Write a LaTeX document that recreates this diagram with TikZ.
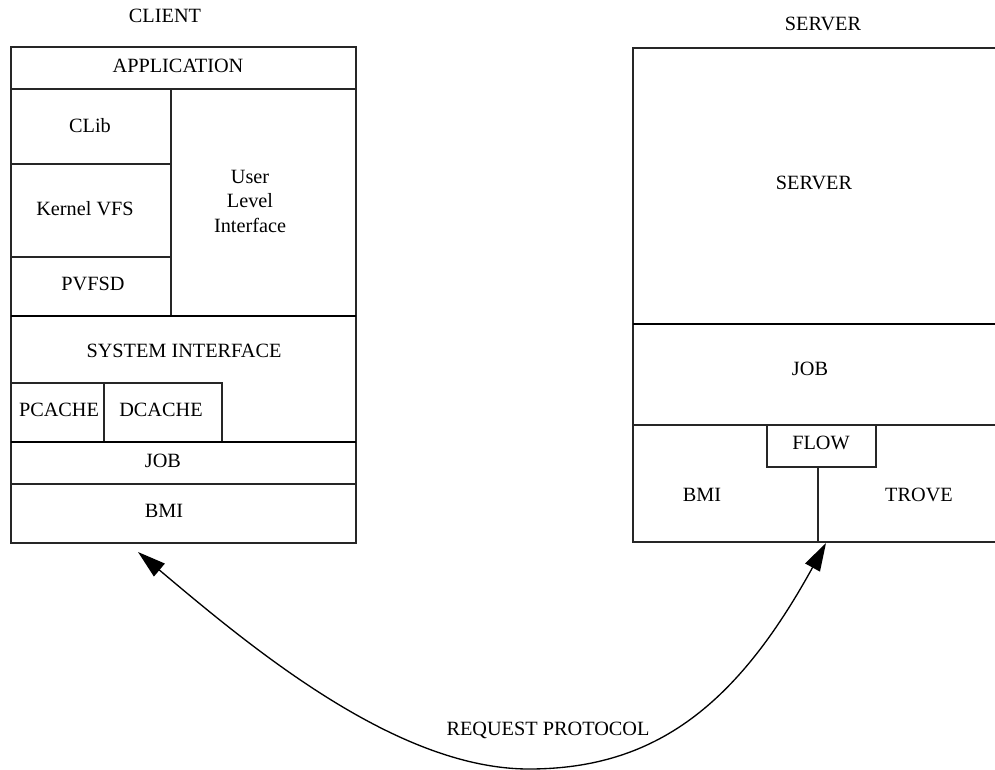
\documentclass[tikz,border=0pt]{standalone}
\usepackage{fontspec}
\setmainfont{Liberation Serif}
\usetikzlibrary{arrows.meta}
\begin{document}
\begin{tikzpicture}[x=0.75pt,y=-0.75pt,
  thin line/.style={draw=black!85,line width=0.8pt},
  thick line/.style={draw=black,line width=1.2pt},
  lbl/.style={inner sep=0pt,font=\fontsize{15.2}{18.4}\selectfont},
  proto/.style={line width=1pt,{Triangle[length=21pt,width=12.5pt]}-{Triangle[length=21pt,width=12.5pt]}}]
\useasboundingbox (0,0) rectangle (995,770);
% ---------- client ----------
\draw[thin line] (11,47) rectangle (356,543);
\draw[thin line] (11,89) -- (356,89);
\draw[thin line] (171,89) -- (171,316);
\draw[thin line] (11,164) -- (171,164);
\draw[thin line] (11,257) -- (171,257);
\draw[thick line] (11,316) -- (356,316);
\draw[thin line] (11,383) rectangle (222,442);
\draw[thin line] (104,383) -- (104,442);
\draw[thick line] (11,442) -- (356,442);
\draw[thin line] (11,484) -- (356,484);
\node[lbl] (clientt) at (165,16) {CLIENT};
\node[lbl] (app) at (178,66) {APPLICATION};
\node[lbl] (clib) at (90,126) {CLib};
\node[lbl] (kvfs) at (85,209) {Kernel VFS};
\node[lbl] (pvfsd) at (93,284) {PVFSD};
\node[lbl,align=center] (uli) at (250,201) {User\\Level\\Interface};
\node[lbl] (sysif) at (184,351) {SYSTEM INTERFACE};
\node[lbl] (pcache) at (59,410) {PCACHE};
\node[lbl] (dcache) at (161,410) {DCACHE};
\node[lbl] (cjob) at (163,461) {JOB};
\node[lbl] (cbmi) at (164,511) {BMI};
% ---------- server ----------
\draw[thin line] (996,48) -- (633,48) -- (633,542) -- (996,542);
\draw[thick line] (633,324) -- (996,324);
\draw[thin line] (633,425) -- (996,425);
\draw[thin line] (767,425) rectangle (876,467);
\draw[thin line] (818,467) -- (818,542);
\node[lbl] (servert) at (823,24) {SERVER};
\node[lbl] (server) at (814,183) {SERVER};
\node[lbl] (sjob) at (810,369) {JOB};
\node[lbl] (flow) at (821,443) {FLOW};
\node[lbl] (sbmi) at (702,495) {BMI};
\node[lbl] (trove) at (919,495) {TROVE};
% ---------- protocol ----------
\coordinate (ctip) at (138,552);
\coordinate (stip) at (826,543);
\coordinate (bot) at (529,769);
\draw[proto] (ctip) .. controls (253,649) and (397,769) .. (bot)
  .. controls (657,769) and (738,703) .. (stip);
\node[lbl] (req) at (548,730) {REQUEST PROTOCOL};
\end{tikzpicture}
\end{document}
